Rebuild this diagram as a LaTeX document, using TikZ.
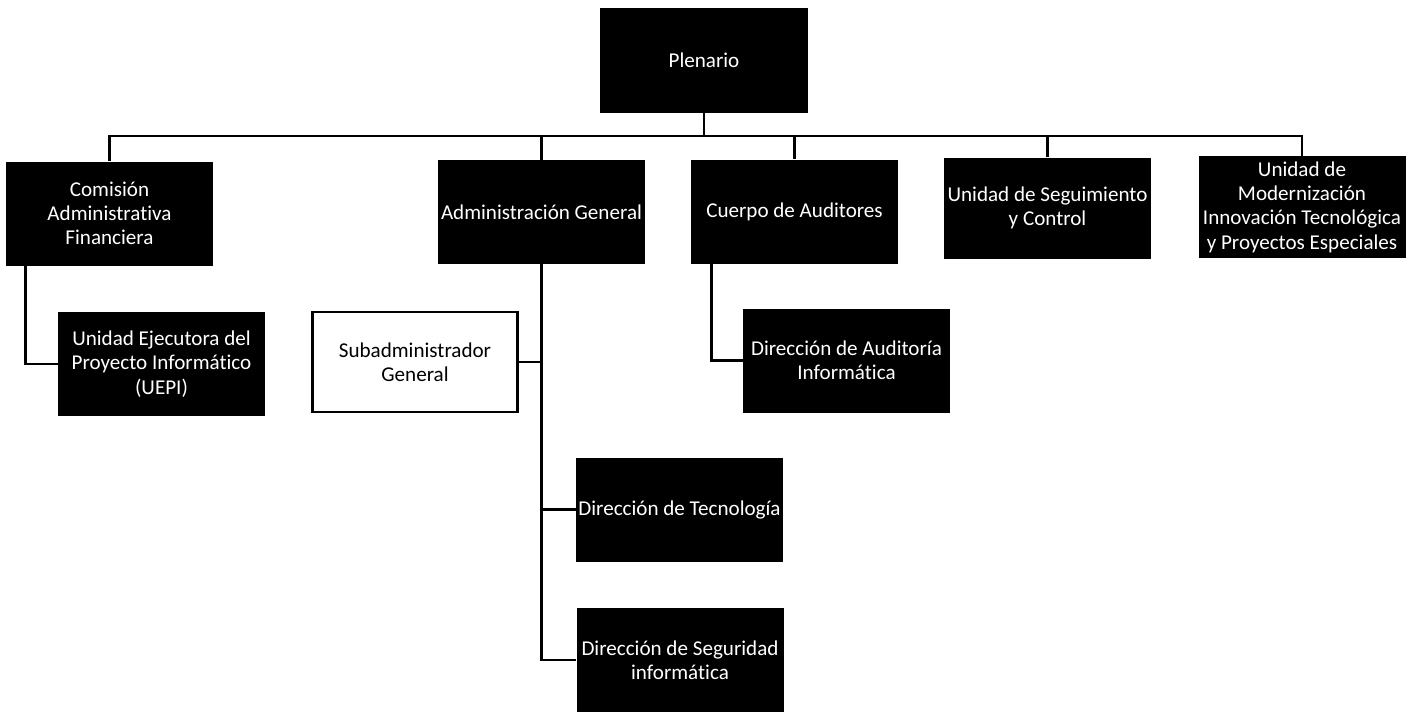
\documentclass[tikz,border=0pt]{standalone}
\usepackage{fontspec}
\setmainfont{Carlito}[Ligatures=NoCommon]
\usetikzlibrary{positioning,calc}

\tikzset{
	caja/.style={rectangle, fill=black, text=white, minimum width=4.14cm, minimum height=2.08cm, align=center, inner sep=1pt, font=\fontsize{12}{13.8}\selectfont},
	cajab/.style={caja, fill=white, text=black, draw=black, line width=1.5pt, minimum width=4.1cm, minimum height=2cm},
	linea/.style={line width=1.6pt, black}
}

\begin{document}
\begin{tikzpicture}
		\useasboundingbox (0,0) rectangle (28.42,-14.22);
		\node[caja, minimum width=4.16cm, minimum height=2.1cm] (plenario) at (14.08,-1.21) {Plenario};
		\coordinate (bus) at (0,-2.72);
		
		\node[caja] (comision) at (2.19,-4.27) {Comisión\\Administrativa\\Financiera};
		\node[caja] (admin) at (10.83,-4.24) {Administración General};
		\node[caja] (cuerpo) at (15.89,-4.23) {Cuerpo de Auditores};
		\node[caja, minimum height=2.02cm] (seguimiento) at (20.95,-4.16) {Unidad de Seguimiento\\y Control};
		\node[caja, minimum height=2.04cm] (modernizacion) at (26.04,-4.14) {Unidad de\\Modernización\\Innovación Tecnológica\\y Proyectos Especiales};
		
		\node[caja] (uepi) at (3.23,-7.28) {Unidad Ejecutora del\\Proyecto Informático\\(UEPI)};
		\node[cajab] (subadmin) at (8.3,-7.24) {Subadministrador\\General};
		\node[caja] (diraudit) at (16.93,-7.21) {Dirección de Auditoría\\Informática};
		\node[caja] (dirtec) at (13.59,-10.19) {Dirección de Tecnología};
		\node[caja] (dirseg) at (13.6,-13.2) {Dirección de Seguridad\\informática};
		
		% bus superior
		\draw[linea] (plenario.south) -- (plenario.south |- bus);
		\foreach \n in {comision,admin,cuerpo,seguimiento,modernizacion}
			\draw[linea] (\n.north) |- (plenario.south |- bus);
		
		\draw[linea] ([xshift=0.4cm]comision.south west) |- (uepi.west);
		\draw[linea] ([xshift=0.42cm]cuerpo.south west) |- (diraudit.west);
		\draw[linea] (admin.south) |- (dirseg.west);
		\draw[linea] (admin.south |- subadmin.east) -- (subadmin.east);
		\draw[linea] (admin.south |- dirtec.west) -- (dirtec.west);
	\end{tikzpicture}
\end{document}
